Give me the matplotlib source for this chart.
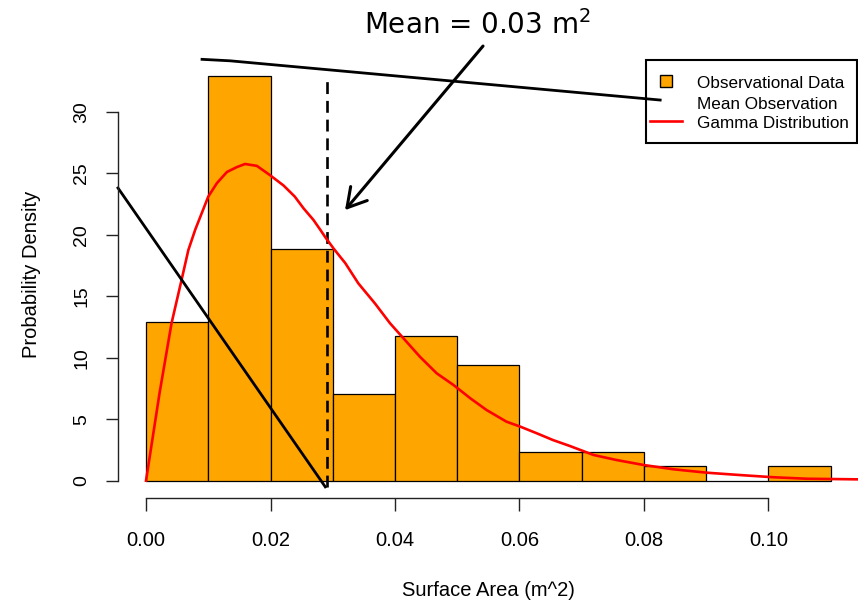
import matplotlib.pyplot as plt
from matplotlib.lines import Line2D
from matplotlib.patches import Rectangle

plt.rcParams['font.family'] = ['Liberation Sans', 'DejaVu Sans']

# histogram of surface areas (density scale, bin width 0.01)
bin_left = [0.00, 0.01, 0.02, 0.03, 0.04, 0.05, 0.06, 0.07, 0.08, 0.09, 0.10]
density = [12.94, 32.94, 18.82, 7.06, 11.76, 9.41, 2.35, 2.35, 1.18, 0.0, 1.18]
bin_width = 0.01

mean_area = 0.029

# fitted gamma density
gamma_x = [0.0, 0.0022, 0.0041, 0.0057, 0.0068, 0.0079, 0.0100, 0.0114, 0.0130,
           0.0146, 0.0159, 0.0178, 0.0199, 0.0221, 0.0239, 0.0253, 0.0269, 0.0280,
           0.0288, 0.0301, 0.0312, 0.0320, 0.0341, 0.0368, 0.0392, 0.0416, 0.0440,
           0.0467, 0.0494, 0.0521, 0.0547, 0.0579, 0.0601, 0.0628, 0.0654, 0.0681,
           0.0719, 0.0756, 0.0799, 0.0847, 0.0901, 0.0954, 0.1008, 0.1061, 0.1142]
gamma_y = [0.0, 7.2, 12.8, 16.3, 18.75, 20.4, 23.1, 24.2, 25.1,
           25.5, 25.75, 25.6, 24.85, 24.0, 23.1, 22.15, 21.2, 20.4,
           19.8, 18.9, 18.2, 17.7, 16.05, 14.4, 12.8, 11.44, 10.08,
           8.73, 7.78, 6.7, 5.75, 4.8, 4.4, 3.85, 3.3, 2.82,
           2.09, 1.68, 1.28, 0.93, 0.65, 0.46, 0.28, 0.16, 0.11]

# stray legend segments left on the plot
seg_top_x = [0.0090, 0.0135, 0.0826]
seg_top_y = [34.26, 34.14, 30.95]
seg_diag_x = [-0.0045, 0.0288]
seg_diag_y = [23.8, -0.5]

W, H = 858, 601
fig = plt.figure(figsize=(W / 100, H / 100), dpi=100)
ax = fig.add_axes([118 / W, (H - 498) / H, (858 - 118) / W, (498 - 34) / H])
ax.set_xlim(-0.0045, 0.11438)
ax.set_ylim(-1.407, 36.32)

ax.bar(bin_left, density, width=bin_width, align='edge', color='#FFA500',
       edgecolor='black', linewidth=0.9)
ax.plot([mean_area, mean_area], [-0.5, 32.6], color='black', lw=1.9,
        linestyle=(0, (4.5, 2.6)))
ax.plot(gamma_x, gamma_y, color='#FF0000', lw=1.9, clip_on=False)
ax.plot(seg_top_x, seg_top_y, color='black', lw=2.0, clip_on=False)
ax.plot(seg_diag_x, seg_diag_y, color='black', lw=2.0, clip_on=False)

for s in ['top', 'right']:
    ax.spines[s].set_visible(False)
ax.spines['left'].set_bounds(0, 30)
ax.spines['bottom'].set_bounds(0, 0.10)
for s in ['left', 'bottom']:
    ax.spines[s].set_linewidth(1.0)
    ax.spines[s].set_color('#222222')

ax.set_xticks([0.00, 0.02, 0.04, 0.06, 0.08, 0.10])
ax.set_xticklabels(['0.00', '0.02', '0.04', '0.06', '0.08', '0.10'])
ax.set_yticks([0, 5, 10, 15, 20, 25, 30])
ax.tick_params(axis='both', direction='out', length=9, width=1.0,
               color='#222222', labelsize=14)
ax.tick_params(axis='x', pad=15, labelsize=14.5)
ax.tick_params(axis='y', pad=11)
for lab in ax.get_yticklabels():
    lab.set_rotation(90)
    lab.set_va('center')

fig.text(488 / W, 1 - 590 / H, 'Surface Area (m^2)', ha='center', va='center',
         fontsize=14.5)
fig.text(32 / W, 1 - 274 / H, 'Probability Density', ha='center', va='center',
         rotation=90, fontsize=14.5)

# title-like callout with arrow
fig.text(477 / W, 1 - 25 / H, 'Mean = 0.03 m$^2$', ha='center', va='center',
         fontsize=20, family='DejaVu Sans')
ax.annotate('', xy=(0.03197, 22.0), xytext=(0.05414, 35.34),
            arrowprops=dict(arrowstyle='->,head_length=0.67,head_width=0.39',
                            lw=2.2, color='black', mutation_scale=20,
                            shrinkA=0, shrinkB=0),
            annotation_clip=False)

# legend box
fig.add_artist(Rectangle((646 / W, 1 - 143 / H), (857 - 646) / W, (143 - 60) / H,
                         transform=fig.transFigure, fill=False, ec='black', lw=1.5))
fig.add_artist(Line2D([665.5 / W], [1 - 81 / H], marker='s', ms=9, mfc='#FFA500',
                      mec='black', mew=1.0, transform=fig.transFigure))
fig.add_artist(Line2D([650 / W, 682 / W], [1 - 121 / H, 1 - 121 / H], color='#FF0000',
                      lw=1.9, transform=fig.transFigure))
for yy, txt in [(83, 'Observational Data'), (104, 'Mean Observation'),
                (124, 'Gamma Distribution')]:
    fig.text(697 / W, 1 - yy / H, txt, ha='left', va='center', fontsize=12.3)

fig.savefig('out.png', dpi=100)
